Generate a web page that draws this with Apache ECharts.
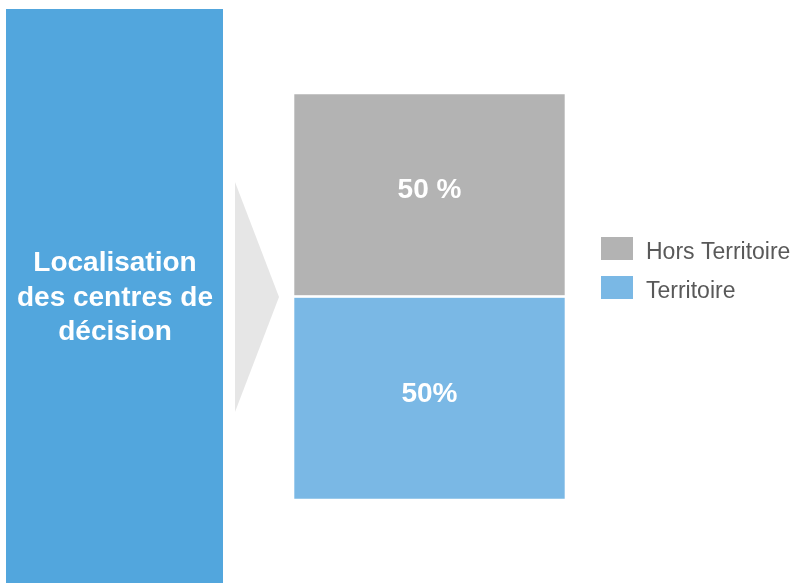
<!DOCTYPE html>
<html>
<head>
<meta charset="utf-8">
<script src="https://cdn.jsdelivr.net/npm/echarts@6/dist/echarts.min.js"></script>
<style>
  html, body { margin: 0; padding: 0; background: #fff; }
  #chart { width: 802px; height: 583px; }
</style>
</head>
<body>
<div id="chart"></div>
<script>
const categories = ['Localisation des centres de décision']
const seriesNames = ['Territoire', 'Hors Territoire']
const territoire = [50]
const horsTerritoire = [50]
const labelsTerritoire = ['50%']
const labelsHors = ['50 %']

const chart = echarts.init(document.getElementById('chart'))
const font = '"Liberation Sans", Arial, sans-serif'

const barLabel = (texts) => ({
  show: true,
  position: 'inside',
  offset: [0, -4],
  color: '#fff',
  fontFamily: font,
  fontWeight: 'bold',
  fontSize: 28,
  formatter: (p) => texts[p.dataIndex]
})

const option = {
  animation: false,
  graphic: [
    {
      type: 'rect',
      shape: { x: 6, y: 9, width: 217, height: 580 },
      style: { fill: '#52a6dd' }
    },
    {
      type: 'polygon',
      shape: { points: [[235, 182], [279, 297], [235, 412]] },
      style: { fill: '#e6e6e6' }
    },
    {
      type: 'text',
      x: 115,
      y: 298,
      style: {
        text: 'Localisation\ndes centres de\ndécision',
        fill: '#fff',
        font: 'bold 28px ' + font,
        align: 'center',
        verticalAlign: 'middle',
        lineHeight: 34.5
      }
    }
  ],
  legend: {
    orient: 'vertical',
    left: 601,
    top: 237,
    padding: 0,
    itemWidth: 32,
    itemHeight: 23,
    itemGap: 12,
    icon: 'rect',
    itemStyle: { borderWidth: 0 },
    data: ['Hors Territoire', 'Territoire'],
    formatter: '{t|{name}}',
    textStyle: {
      color: '#595959',
      fontFamily: font,
      fontSize: 23,
      padding: [0, 0, 0, 8],
      rich: {
        t: {
          color: '#595959',
          fontFamily: font,
          fontSize: 23,
          padding: [8, 0, 0, 0]
        }
      }
    }
  },
  grid: { left: 293, width: 273, top: 93, height: 407 },
  xAxis: {
    type: 'category',
    data: categories,
    show: false
  },
  yAxis: {
    type: 'value',
    min: 0,
    max: 100,
    show: false
  },
  series: [
    {
      name: seriesNames[0],
      type: 'bar',
      stack: 'total',
      barWidth: '100%',
      data: territoire,
      itemStyle: { color: '#7ab8e5', borderColor: '#fff', borderWidth: 1.3 },
      label: barLabel(labelsTerritoire)
    },
    {
      name: seriesNames[1],
      type: 'bar',
      stack: 'total',
      barWidth: '100%',
      data: horsTerritoire,
      itemStyle: { color: '#b3b3b3', borderColor: '#fff', borderWidth: 1.3 },
      label: barLabel(labelsHors)
    }
  ]
}

chart.setOption(option)
</script>
</body>
</html>
